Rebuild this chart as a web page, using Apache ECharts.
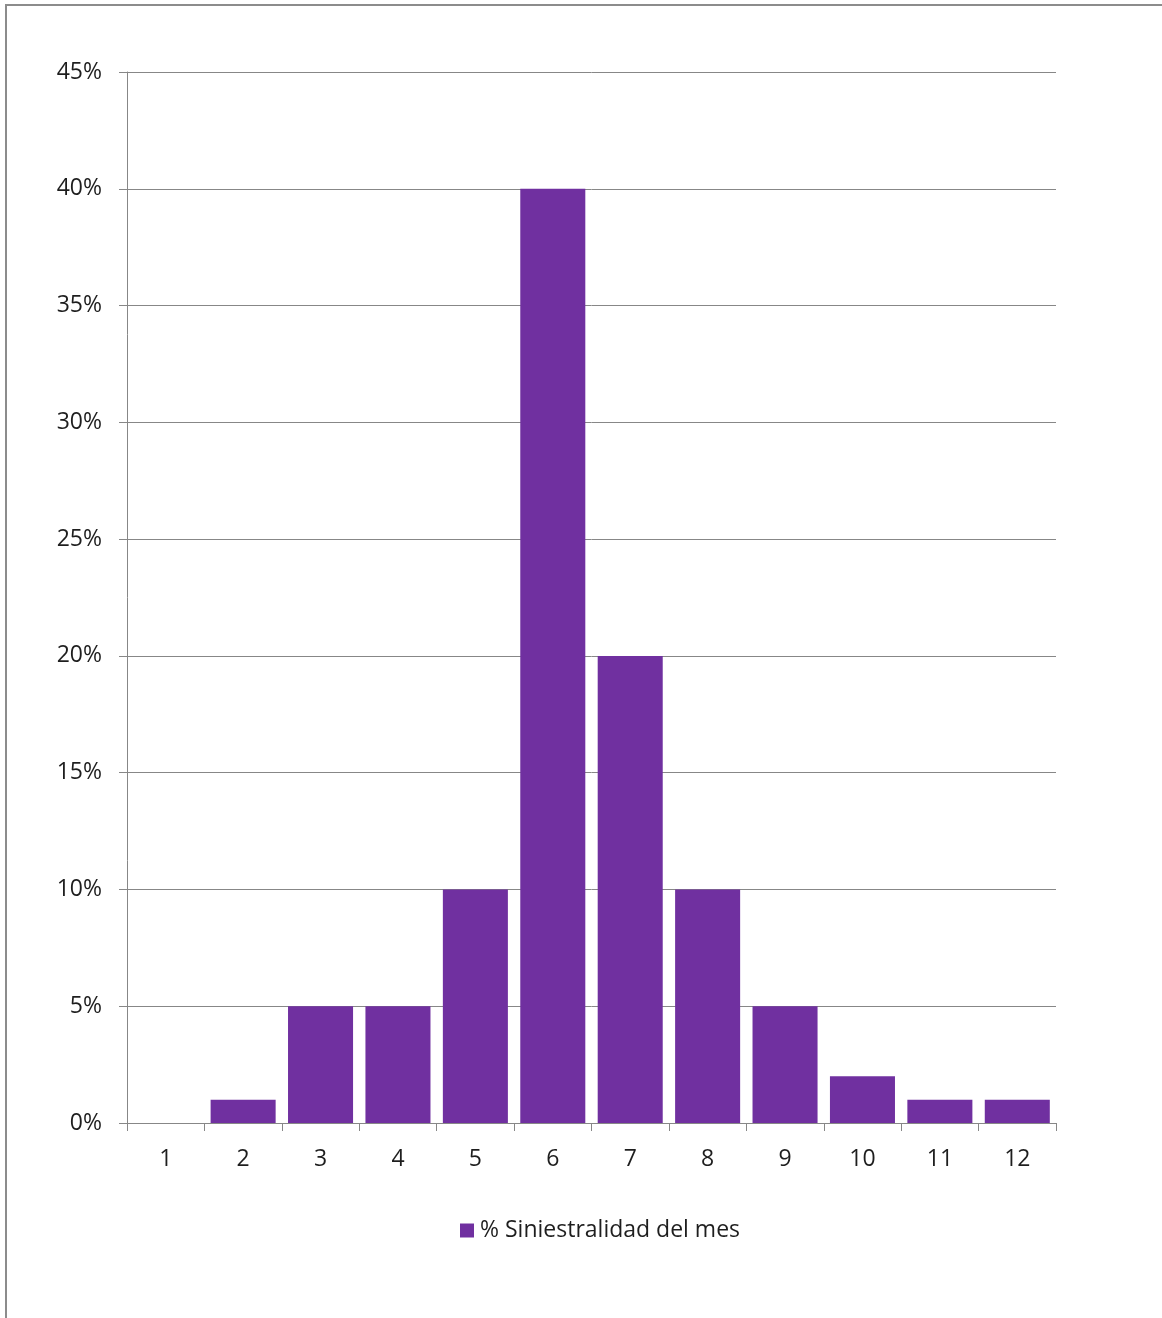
<!DOCTYPE html>
<html>
<head>
<meta charset="utf-8">
<script src="https://cdn.jsdelivr.net/npm/echarts@6/dist/echarts.min.js"></script>
<style>
  html, body { margin: 0; padding: 0; background: #fff; }
  #chart { width: 1162px; height: 1318px; }
</style>
</head>
<body>
<div id="chart"></div>
<script>
const categories = ['1', '2', '3', '4', '5', '6', '7', '8', '9', '10', '11', '12'];
const seriesName = '% Siniestralidad del mes';
const values = [0, 1, 5, 5, 10, 40, 20, 10, 5, 2, 1, 1];
const yMin = 0, yMax = 45, yStep = 5;

const chart = echarts.init(document.getElementById('chart'), null, { renderer: 'canvas' });
const FONT = '"Open Sans", "Liberation Sans", sans-serif';
const TEXT = '#1e1e1e';
const GRAY = '#878787';

chart.setOption({
  animation: false,
  backgroundColor: '#ffffff',
  textStyle: { fontFamily: FONT },
  graphic: [
    { type: 'line', shape: { x1: 5, y1: 5, x2: 1162, y2: 5 }, style: { stroke: '#8c8c8c', lineWidth: 2 }, silent: true },
    { type: 'line', shape: { x1: 6, y1: 4, x2: 6, y2: 1318 }, style: { stroke: '#8c8c8c', lineWidth: 2 }, silent: true }
  ],
  grid: { left: 127, right: 106, top: 72, bottom: 195, containLabel: false },
  legend: {
    left: 455, top: 1214,
    itemWidth: 14, itemHeight: 14, itemGap: 10,
    icon: 'rect',
    textStyle: { fontFamily: FONT, fontSize: 23, color: TEXT, padding: [0, 0, 0, 1] },
    data: [seriesName]
  },
  xAxis: {
    type: 'category',
    data: categories,
    boundaryGap: true,
    axisLine: { show: true, lineStyle: { color: GRAY, width: 1 } },
    axisTick: { show: true, alignWithLabel: false, length: 8, lineStyle: { color: GRAY } },
    axisLabel: { fontFamily: FONT, fontSize: 23, color: TEXT, margin: 25 },
    splitLine: { show: false }
  },
  yAxis: {
    type: 'value',
    min: yMin, max: yMax, interval: yStep,
    axisLine: { show: true, lineStyle: { color: GRAY, width: 1 } },
    axisTick: { show: true, length: 8, lineStyle: { color: GRAY } },
    axisLabel: { fontFamily: FONT, fontSize: 23, color: TEXT, margin: 25, padding: [6, 0, 0, 0], formatter: '{value}%' },
    splitLine: { show: true, lineStyle: { color: GRAY, width: 1 } }
  },
  series: [{
    name: seriesName,
    type: 'bar',
    data: values,
    barCategoryGap: '16%',
    itemStyle: { color: '#7030A0', borderWidth: 0 }
  }]
});
</script>
</body>
</html>
